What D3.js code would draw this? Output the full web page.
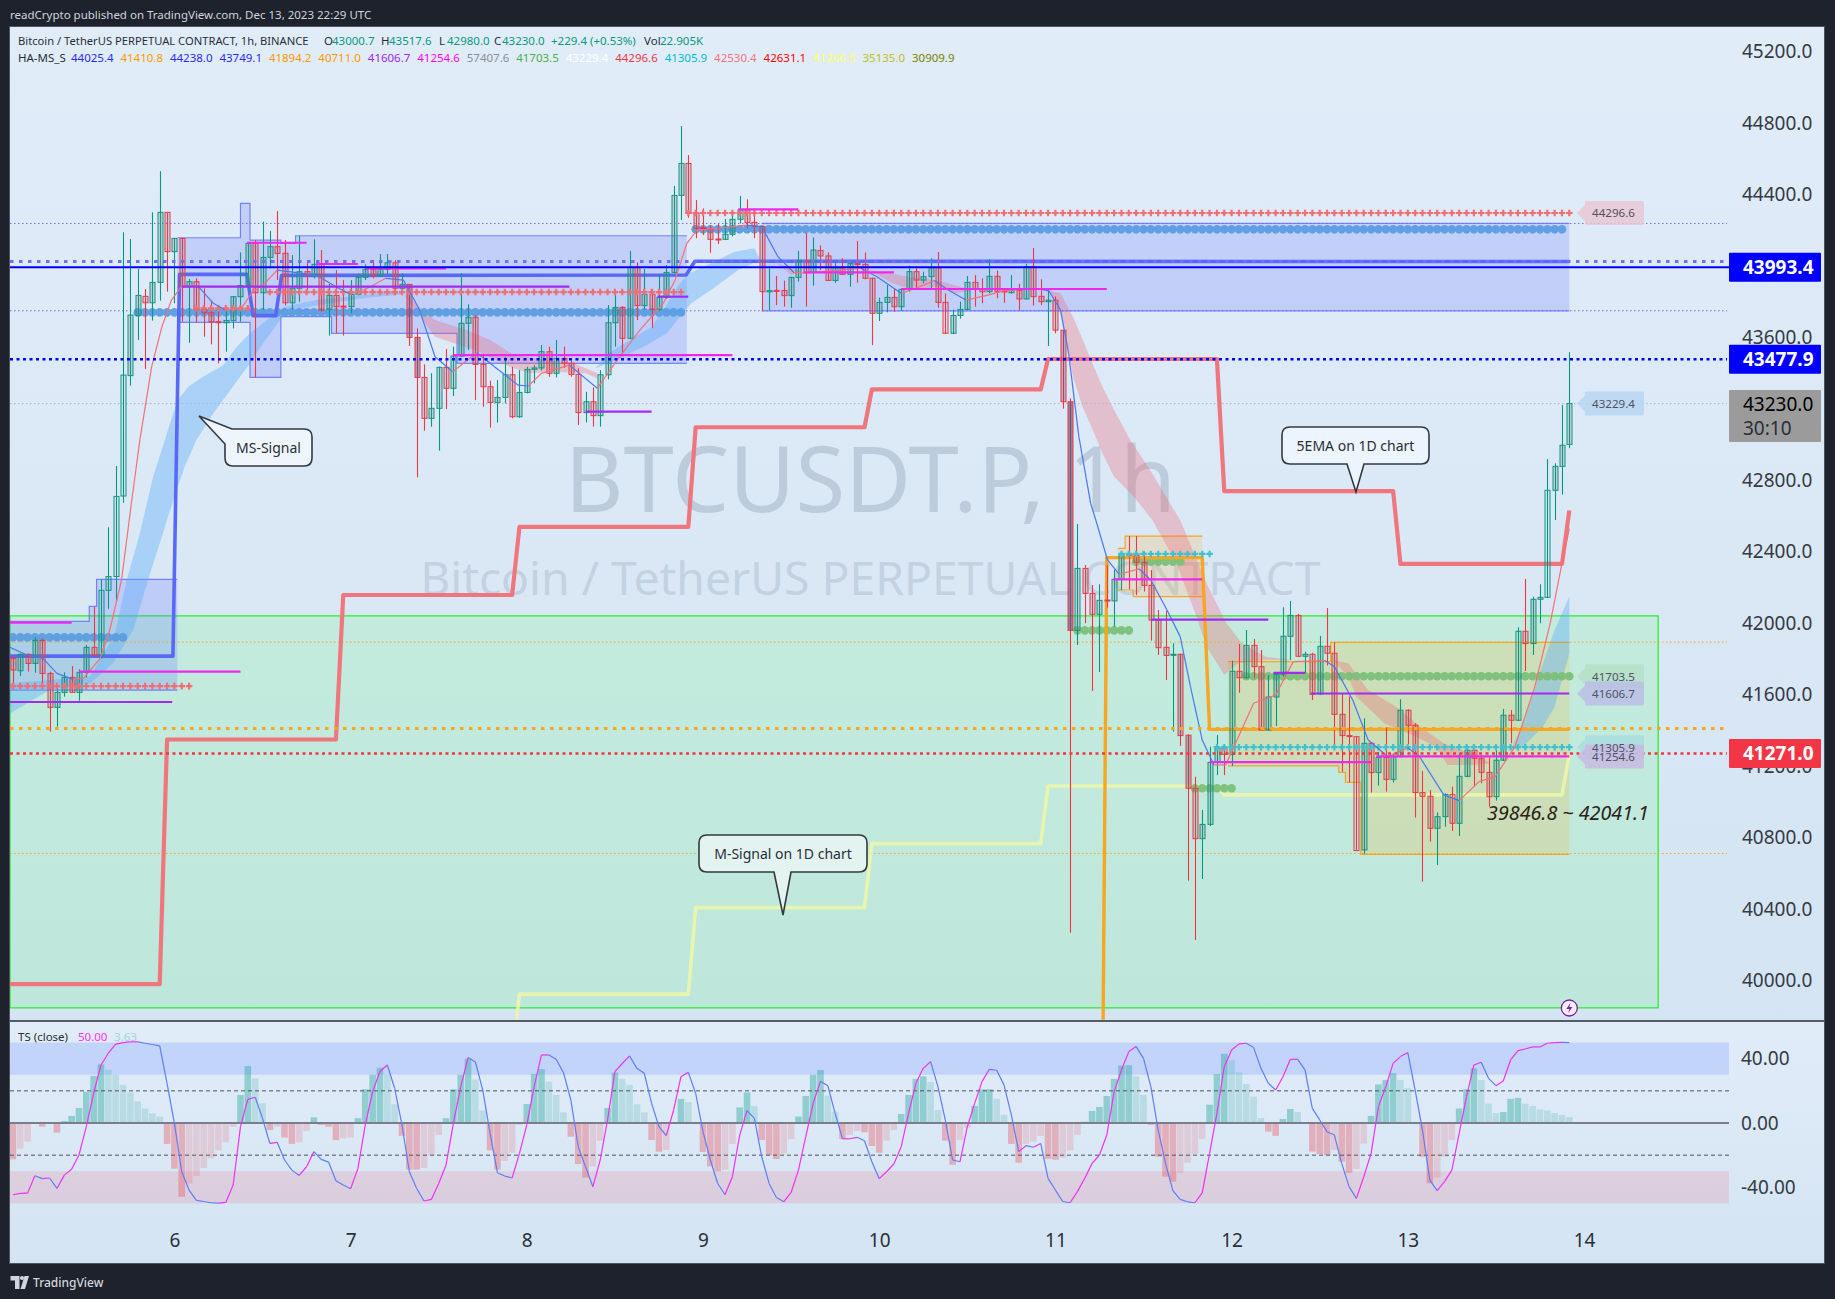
<!DOCTYPE html>
<html><head><meta charset="utf-8">
<script src="https://cdn.jsdelivr.net/npm/d3@7/dist/d3.min.js"></script>
<style>html,body{margin:0;padding:0;background:#1e222d}svg{display:block}text{font-family:"Noto Sans",sans-serif}</style>
</head><body><svg id="c" width="1835" height="1299"></svg>
<script>
// ---- candles: first candle is hour -22 relative to Dec 6 00:00 ----
const firstHour = -22;
const opens = [41803,41734,41826,41775,41904,41719,41529,41613,41697,41613,
41725,41865,41818,42184,42261,42712,43386,43722,43830,43794,
43908,44300,44080,44154,43886,43912,43757,43738,43688,43682,
43695,43828,43890,44126,43850,44048,44108,44071,43794,43875,
43968,43953,44009,43757,43835,43775,43772,43841,43936,43979,
43944,43981,44018,43875,43897,43600,43376,43147,43203,43432,
43315,43496,43679,43712,43449,43324,43236,43264,43391,43156,
43292,43421,43429,43520,43399,43483,43455,43393,43179,43240,
43162,43391,43682,43768,43595,43992,43778,43841,43757,43824,
43964,44395,44574,44295,44215,44205,44151,44149,44177,44261,
44313,44244,44220,43855,43863,43863,43834,43936,44031,43964,
44087,44056,43919,43990,43953,44013,44009,43931,43735,43796,
43824,43772,43869,43968,43921,43940,43990,43796,43623,43723,
43757,43908,43869,43856,43942,43860,43850,43863,43815,43996,
43830,43800,43808,43640,43240,41960,42307,42167,42050,42130,
42125,42246,42386,42382,42341,42212,42018,41865,41822,41826,
41373,41076,40794,40874,41221,41302,41266,41731,41695,41876,
41757,41402,41587,41714,41927,42044,41815,41826,41604,41871,
41832,41490,41371,41365,40731,41328,41164,41248,41126,41253,
41513,41429,41052,41031,40852,40917,41042,40880,41143,41289,
41244,41165,41029,41233,41485,41457,41955,41886,42134,42145,
42744,42878,43000.7];
const highs = [41822,41831,41831,41921,41915,41729,41641,41725,41760,41742,
41878,42093,42246,42537,42880,44188,44151,43983,43871,44300,
44531,44300,44158,44158,43927,43931,43875,43806,43744,43753,
43832,44076,44130,44145,44248,44196,44307,44145,44061,44169,
44018,44149,44089,43900,43977,43921,43921,43959,44009,44033,
44067,44067,44033,43959,43897,43651,43449,43400,43437,43535,
43548,43959,43785,43725,43500,43358,43361,43492,43436,43417,
43436,43445,43557,43548,43585,43548,43470,43427,43296,43320,
43417,43781,43847,43775,44084,44020,43983,43869,43953,44005,
44448,44783,44621,44369,44322,44229,44238,44263,44285,44392,
44373,44313,44223,43987,43944,43918,43940,44084,44183,44160,
44115,44076,44015,44043,44024,44140,44076,43935,43822,43893,
43875,43875,44002,44000,43968,44043,44078,43847,43755,43800,
43944,43949,43931,44037,43975,43875,43949,43900,44011,44100,
43925,43865,43830,43640,43260,42556,42326,42214,42218,42326,
42300,42401,42488,42488,42401,42298,42074,42070,41888,41830,
41378,41141,40955,41309,41374,41318,41791,41884,41962,41912,
41850,41710,41723,42089,42125,42052,41841,41835,41929,42085,
41893,41608,41590,41365,41468,41335,41280,41417,41270,41574,
41518,41440,41173,41066,40941,41048,41085,41270,41315,41292,
41262,41250,41290,41520,41514,41977,42248,42149,42218,42919,
42895,43222,43517.6];
const lows = [41630,41704,41729,41723,41654,41393,41421,41589,41613,41566,
41697,41818,41803,42081,42124,42675,43330,43585,43423,43694,
43806,43856,43791,43688,43570,43682,43604,43561,43455,43520,
43650,43688,43870,43376,43755,43987,43921,43780,43755,43800,
43865,43930,43745,43610,43623,43610,43735,43835,43921,43930,
43940,43950,43837,43855,43552,42817,43078,43100,42966,43199,
43272,43490,43529,43249,43212,43095,43123,43230,43147,43150,
43286,43343,43415,43380,43376,43430,43380,43110,43124,43100,
43100,43365,43548,43501,43590,43697,43755,43654,43750,43815,
43958,44257,44270,44155,44173,44074,44123,44145,44165,44238,
44210,44155,43748,43753,43781,43772,43766,43912,43772,43890,
43977,43915,43906,43950,43884,43906,43925,43557,43692,43740,
43744,43748,43856,43870,43903,43870,43766,43623,43620,43705,
43753,43772,43791,43847,43819,43794,43845,43753,43813,43778,
43781,43552,43623,43201,40268,41878,42000,41621,41727,42087,
41981,42186,42190,42158,42177,41903,41822,41682,41393,41313,
40559,40227,40568,40865,41150,41150,41201,41611,41690,41692,
41402,41402,41425,41701,41794,41810,41723,41570,41598,41763,
41313,41169,41109,40727,40708,41052,41091,41057,41108,41250,
41324,40912,40553,40777,40647,40861,40837,40809,41138,41085,
41104,40973,41007,41230,41328,41453,41733,41822,42000,42140,
42578,42720,42980];
const closes = [41738,41826,41775,41904,41719,41529,41613,41697,41613,41725,
41865,41818,42184,42261,42710,43389,43725,43835,43794,43908,
44300,44080,44154,43886,43912,43757,43738,43688,43682,43695,
43828,43890,44126,43850,44048,44108,44070,43794,43875,43968,
43949,44009,43753,43835,43772,43772,43841,43936,43979,43944,
43981,44018,43875,43897,43600,43376,43147,43203,43432,43315,
43496,43679,43712,43449,43324,43236,43264,43391,43156,43292,
43421,43429,43520,43399,43483,43455,43393,43179,43240,43162,
43391,43682,43768,43595,43992,43778,43841,43757,43824,43964,
44395,44574,44295,44211,44210,44149,44149,44177,44261,44313,
44242,44220,43856,43862,43861,43834,43936,44031,43962,44089,
44056,43919,43990,43953,44013,44007,43931,43735,43796,43824,
43772,43869,43968,43921,43940,43990,43796,43623,43723,43757,
43908,43869,43856,43942,43856,43855,43863,43815,43996,43828,
43800,43808,43641,43240,41960,42307,42167,42050,42128,42125,
42246,42386,42382,42341,42212,42018,41863,41820,41826,41371,
41076,40794,40874,41221,41302,41266,41731,41695,41876,41757,
41402,41587,41714,41927,42044,41815,41826,41602,41871,41832,
41490,41371,41367,40727,41328,41164,41248,41126,41253,41513,
41429,41052,41031,40852,40917,41042,40880,41143,41289,41244,
41165,41029,41233,41485,41457,41955,41886,42134,42145,42744,
42878,42996,43230];
// body shade (volume-like tint) for the candles that stand out: [hour, opacity]
const bodyShade = [[122,.62],[121,.34],[33,.45],[32,.38],[138,.36],[137,.3],[161,.05],[187,.04],[105,.05],[-10,.05],[-9,.06],[-8,.05],[-7,.06],[183,.05]];

// ---- TS pane ----
const tsHist = [-22.6,-16,-11.6,-0.3,-2.3,-0.3,-6,1.2,4.4,9.3,
19.3,29.3,36.5,33,30,23.7,19,13.5,9,6,
4,-13,-28.4,-45.9,-37.6,-33,-28,-22,-17,-12,
-2.5,17.4,35.5,27.8,12.2,-4.4,-2.3,-9,-13,-12,
-5,3.5,-1.2,-2.3,-10.6,-9.5,-9,3,21,30,
34.4,30,11.6,-8,-29,-29,-28,-20,-7.5,3,
21,30,40,27,7.7,-17,-29,-23.6,-18.5,-1,
11.8,30.5,33.6,25.7,17.4,6.6,-8.5,-25.5,-34,-27,
-11,9.3,31.3,27.4,23.7,11.6,6.6,-10.6,-17.8,-16.8,
0,15,13,0,-18,-27,-30,-29,-13,9.7,
19,10.5,-10.6,-20,-22.4,-19,-10,4,16.8,30,
33,17,7,-10,-7.5,-5,-5.8,-14.3,-18.5,-11,
-4.4,5.6,17.4,27.4,29,25.5,8,-11,-26,-10.6,
-3,10.6,21,21,15,5,-13,-24.7,-13,-11.6,
-8,-22.4,-22.8,-21.6,-17,-7.5,0.8,7.5,10,16.8,
27.4,35.7,36,29,17.4,-1.2,-21,-33.4,-36.5,-31,
-24.7,-19.3,-10,11.4,30.5,43,39,31.5,24.3,16.4,
3,-5.4,-8,2.5,8.7,6.8,0,-17.8,-19.3,-20,
-16.8,-24,-31,-28.6,-12.7,4.4,24,26.8,31,26.8,
21.6,0,-21,-37.5,-33.8,-21,-10.6,9,21,34,
26.8,12,6.2,6.8,15,15.6,12,10.6,8.5,7.7,
6.2,5,3.63];
const tsLine = [-44.6,-43.8,-43.6,-32.8,-34.6,-34.2,-40.7,-32.4,-28.8,-19.9,
-2.3,18.5,36.1,43.4,49,50,50.4,50.5,49.6,48.8,
48,24.7,-0.2,-30.3,-41.7,-48.1,-48.8,-49.6,-49.8,-49.4,
-38.6,-2.3,14.7,16,2.9,-12.7,-12,-23,-29.3,-32.6,
-27.2,-17.8,-22.6,-24.3,-35.9,-38.6,-40.9,-28.2,-1.2,19.5,
32,36.1,21.6,-1.2,-30.3,-40.7,-48.5,-47.5,-37.6,-26.1,
-0.2,22.6,40.7,38,20.5,-6.4,-30.9,-33,-34.2,-18.9,
-1.2,22.6,42.3,42.3,39.6,31.3,14.3,-14.7,-27.2,-39.6,
-23,1.9,32,37,41.7,34,30.9,12.2,-2.3,-7.9,
8.1,28.8,31.5,18.5,-5.4,-23,-37.6,-44.6,-33.4,-7.5,
7.7,2.9,-21,-37.6,-46.3,-49,-43.2,-29.3,-8.5,12.2,
25.9,23.2,6,-9.8,-9.8,-8.9,-11,-24.1,-34.6,-30.3,
-25.5,-14.7,6,24.7,34,38.2,22.6,1.9,-23,-24.1,
-2.3,12.2,25.7,33.4,32.8,23.7,5,-17.8,-14.1,-15.1,
-12.7,-34.4,-41.7,-48.8,-49.6,-42.7,-34.4,-25.1,-19.9,-7.5,
19.5,33,44.4,47.5,40.2,22.6,-4.4,-25.1,-42.1,-47.5,
-49,-49.6,-43.4,-18.9,6,35,45.4,49.2,49.6,46.9,
34,24.7,20.5,28.8,39.6,39.6,33,9.1,1.9,-5.4,
-7.5,-25.1,-39.6,-46.9,-33.4,-18.9,10.2,22.6,37.1,41.3,
43.8,20.5,-4.4,-35.5,-42.1,-36.5,-29.3,-6.4,16.4,36.1,
37.8,27.8,23.2,26.1,39.2,45,46,47.3,47.3,49.6,
50,50.2,50];

// ---- axis ticks (44000 and 43200 sit behind the value boxes) ----
const priceTicks = [45200,44800,44400,43600,42800,42400,42000,41600,41200,40800,40400,40000];
const tsTicks = [40,0,-40];
const dayTicks = [6,7,8,9,10,11,12,13,14];

// ---- horizontal levels ----
const thinLevels = [[44238,"#6d6df0"],[43749.1,"#6d6df0"],[43229.4,"#a9b4bf"],[41894.2,"#f5a623"],[40711,"#f5a623"]];
const thickDotLevels = [[44025.4,"#6f6fff"],[41410.8,"#f5a623"]];
const fineDotLevels = [[43477.9,"#0000ff"],[41271,"#f23645"]];
const solidLevel = 43993.4;

// ---- stepped indicator lines: [hour, price] ----
const ema1d = [[-23.4,39980],[-2,39980],[-1,41349],[22,41349],[23,42158],[46,42158],[47,42539],[70,42539],[71,43097],[94,43097],[95,43309],[118,43309],[119,43479],[142,43479],[143,42740],[166,42740],[167,42332],[189,42332],[190,42631]];
const mSignal = [[46.6,39780],[47,39924],[70,39924],[71,40408],[94,40408],[95,40766],[118,40766],[119,41089],[142,41089],[143,41039],[189,41039],[190,41266]];
const msSignal = [[-23.4,41816],[-0.2,41816],[0.7,43953],[9.9,43953],[10.7,43722],[13.8,43722],[14.6,43947],[69.7,43949],[70.9,44026],[190,44025]];
const orangeSignal = [[126.5,39780],[127,42367],[140,42367],[141,41406],[190,41406]];

// ---- zones: [hourFrom, top, bottom] per step, closed by a final hour ----
const greenZone = {top:42041.1,bottom:39846.8,hourEnd:202.1};
const blueZones = [
 {steps:[[-23.4,42010,41626],[-11.6,42094,41626],[-10.6,42246,41626]],end:0.4},
 {steps:[[0.4,44158,43684],[9,44350,43684],[10.3,44145,43376],[14.5,44126,43716],[16.5,44169,43716],[21.4,44169,43623],[38.5,44169,43455]],end:69.8},
 {steps:[[80,44238,43749]],end:190}
];
const orangeZones = [
 {steps:[[128.5,42419,42186],[129.5,42488,42186],[130.6,42488,42149]],end:140},
 {steps:[[143.5,41785,41201],[157.5,41893,41201],[158.6,41893,41165],[159.5,41893,41109],[161.6,41893,40706]],end:190}
];

// ---- ribbons: upper and lower edges as [hour, price] ----
const blueRibbons = [
 {up:[[-23.4,41660],[-11.5,41701],[-8.1,41940],[-6.5,42242],[-4.7,42503],[-2.9,42820],[-1.3,43026],[-0.15,43175],[0.5,43250],[1.9,43324],[3.9,43380],[6.7,43446],[8.5,43548],[10.3,43623],[12.6,43697],[15,43770],[19.3,43810],[30.1,43856],[31.2,43843]],
  lo:[[-23.4,41470],[-17,41626],[-11.5,41663],[-8.4,41775],[-5.6,41962],[-3.6,42242],[-1.7,42485],[-0.15,42690],[1.4,42876],[3,43026],[5.3,43175],[7.8,43315],[10.3,43455],[12.1,43567],[14.4,43697],[15.7,43753],[21,43790],[24.7,43815],[30.1,43837],[31.2,43843]]},
 {up:[[57.4,43427],[59.1,43511],[62.8,43604],[65,43660],[66.9,43772],[68.5,43884],[70.1,43959],[73.1,44015],[76.3,44080],[79,44099],[79.8,44033]],
  lo:[[57.4,43427],[60.7,43483],[63.9,43548],[67.1,43623],[68.5,43697],[70.4,43791],[73.1,43865],[76.8,43977],[79.8,44033]]},
 {up:[[182,41290],[183.7,41440],[185.8,41701],[188,41962],[190,42149]],
  lo:[[182,41290],[183.7,41309],[186.4,41421],[188,41533],[190,41832]]}
];
const pinkRibbons = [
 {up:[[31.2,43843],[35.5,43697],[39.8,43641],[43,43585],[46.3,43501],[50.6,43473],[54.4,43455],[57.6,43399]],
  lo:[[31.2,43843],[35.5,43604],[37.9,43570],[40.9,43529],[45.7,43436],[48.4,43399],[51.7,43408],[56,43399],[57.6,43371]]},
 {up:[[81.96,44018],[85.5,43968]],lo:[[81.96,44018],[84,43950],[85.5,43968]]},
 {up:[[94.6,43977],[97.3,43959],[100,43940],[103.8,43921],[107,43884],[108.6,43865]],
  lo:[[94.6,43977],[97.8,43903],[100.5,43865],[103.8,43884],[106.5,43847],[108.6,43865]]},
 {up:[[118.9,43865],[120.7,43847],[122.4,43716],[124.3,43529],[126.4,43324],[128,43194],[130.2,43026],[132.9,42858],[135.6,42671],[137,42578],[140.6,42223],[143.3,42000],[145.4,41888],[148.6,41813],[152.4,41794],[157.8,41794],[159.9,41776],[162.6,41626],[166.4,41533],[169.7,41421],[172.9,41328],[177.2,41262],[179.4,41216]],
  lo:[[118.9,43865],[120.5,43772],[121.3,43623],[122.4,43380],[123.7,43212],[125.1,43082],[126.4,42951],[128,42820],[130.7,42708],[133.2,42578],[136.5,42335],[139.2,42037],[140.6,41869],[143,41710],[144.9,41776],[148.6,41794],[152.4,41794],[157.8,41794],[159.9,41701],[161,41589],[164.8,41440],[169.1,41365],[171.8,41309],[173.4,41207],[176.7,41207],[179.4,41216]]}
];

// ---- fast moving average: [hour, price] ----
const fastMA = [[-23.4,41885],[-22.4,41865],[-20.1,41822],[-17.9,41803],[-16,41719],[-13.8,41686],[-12.4,41691],[-10.1,41803],[-8.8,41962],[-7.2,42242],[-5.8,42690],[-4.7,43026],[-3.1,43436],[-1.7,43660],[-0.4,43809],[1,43888],[3.2,43888],[5.3,43791],[6.9,43753],[9.1,43763],[10.7,43856],[12.3,43902],[14,43977],[15.6,43968],[19.3,43949],[22,43884],[23.9,43843],[26.3,43875],[28.8,43931],[31.2,43921],[33.4,43753],[35.5,43492],[37.9,43408],[41.2,43514],[43.6,43436],[46.8,43333],[48.2,43328],[50,43399],[53.8,43445],[57.6,43315],[60.3,43473],[63.4,43641],[66.6,43791],[68.2,43921],[69.8,44127],[71.2,44201],[74.1,44211],[77.9,44229],[80,44220],[82.2,44052],[84.4,43962],[86.5,43962],[93.5,43987],[95.7,43940],[99,43847],[101,43875],[103.5,43918],[105.4,43865],[107.8,43809],[110.8,43837],[113,43861],[117.2,43875],[119.1,43861],[120.7,43753],[121.8,43511],[123.2,43044],[124.8,42671],[125.5,42578],[127.1,42354],[128.7,42274],[131.4,42304],[133,42242],[135.2,42074],[137,41925],[138.4,41645],[140,41346],[141.6,41207],[143.2,41207],[147,41552],[150,41598],[152.4,41785],[156.7,41791],[158,41757],[160.5,41570],[162.6,41346],[165.3,41253],[168,41303],[169.6,41253],[172.9,41039],[175,41007],[177.7,41113],[179.9,41141],[182.6,41309],[185.3,41645],[187.4,42000],[189,42335],[190,42530]];

// ---- marker rows: [price, fromHour, toHour] ----
const blueDots = [[41921,-22,-7],[43740,-5,69],[44205,71,189]];
const greenDots = [[42345,131,137],[41960,123,130],[41076,139,144],[41703.5,146,190]];
const redCrosses = [[41648,-22,2],[43763,3,10],[43854,13,69],[44296.6,70,190]];
const cyanCrosses = [[42388,129,141],[41305.9,142,190]];

// ---- short horizontal segments: [price, fromHour, toHour] ----
const magentaSegs = [[42003,-23.4,-14],[41729,-13,9],[44130,9.9,18],[44011,19.3,25],[43987,26,37],[43501,37.9,76],[44317,76.8,85],[43964,85.7,98],[43871,99,127],[42246,127.9,140],[41223,141,163],[41254.6,163.7,190]];
const purpleSegs = [[41559,-23.4,-0.3],[43884,1,53.8],[43184,56,65],[43828,65.8,70],[42020,133,149],[41722,149.7,154],[41606.7,154.8,190]];

// ---- tags and boxes ----
const tags = [[44296.6,"#e8c6d1","44296.6"],[43229.4,"#b5d4f1","43229.4"],[41703.5,"#b4dec6","41703.5"],[41606.7,"#bcbce9","41606.7"],[41305.9,"#a8dcdf","41305.9"],[41254.6,"#c8b6e3","41254.6"]];
const axisBoxes = [[43993.4,"#0000ff","43993.4"],[43477.9,"#0000ff","43477.9"],[41271,"#f23645","41271.0"]];
const legendValues = [["44025.4","#2a2aff"],["41410.8","#ff9800"],["44238.0","#2a2aff"],["43749.1","#2a2aff"],["41894.2","#ff9800"],["40711.0","#ff9800"],["41606.7","#9c27f0"],["41254.6","#ff00ff"],["57407.6","#8a8f96"],["41703.5","#4caf50"],["43229.4","#ffffff"],["44296.6","#f23645"],["41305.9","#00bcd4"],["42530.4","#f7707a"],["42631.1","#ff0000"],["41266.5","#ffff66"],["35135.0","#c0c020"],["30909.9","#808000"]];

// ================= drawing =================
const LEFT=10,RIGHT=1729,EDGE=1824,TOP=27,PANE=1021,BOTTOM=1263;
const svg=d3.select("#c");
const x=d3.scaleLinear().domain([0,192]).range([174.4,1584]);
const y=d3.scaleLinear().domain([40000,44400]).range([980.5,194.5]);
const yTS=d3.scaleLinear().domain([-50,50]).range([1203.4,1042.6]);
const hours=opens.map((_,i)=>firstHour+i);
const defs=svg.append("defs");
const g1=defs.append("linearGradient").attr("id","gm").attr("x1",0).attr("x2",0).attr("y1",0).attr("y2",1);
g1.append("stop").attr("offset",0).attr("stop-color","#e1ecf9");g1.append("stop").attr("offset",1).attr("stop-color","#d4e4f3");
defs.append("clipPath").attr("id","main").append("rect").attr("x",LEFT).attr("y",TOP).attr("width",EDGE-LEFT).attr("height",PANE-TOP);
defs.append("clipPath").attr("id","ts").append("rect").attr("x",LEFT).attr("y",PANE).attr("width",RIGHT-LEFT).attr("height",BOTTOM-PANE);

svg.append("rect").attr("width",1835).attr("height",1299).attr("fill","#1e222d");
svg.append("rect").attr("x",LEFT).attr("y",TOP).attr("width",EDGE-LEFT).attr("height",PANE-TOP).attr("fill","url(#gm)");
svg.append("rect").attr("x",LEFT).attr("y",PANE).attr("width",EDGE-LEFT).attr("height",BOTTOM-PANE).attr("fill","url(#gm)");
svg.append("rect").attr("x",LEFT-.5).attr("y",TOP-.5).attr("width",EDGE-LEFT+1).attr("height",BOTTOM-TOP+1).attr("fill","none").attr("stroke","#50535e");
svg.append("line").attr("x1",LEFT).attr("x2",EDGE).attr("y1",PANE).attr("y2",PANE).attr("stroke","#2a2e39").attr("stroke-width",1.5);

// header
svg.append("text").attr("x",10).attr("y",19).attr("fill","#d1d4dc").attr("font-size",11.5).text("readCrypto published on TradingView.com, Dec 13, 2023 22:29 UTC");
const plain=(xp,yp,t,c,s=11.5)=>svg.append("text").attr("x",xp).attr("y",yp).attr("fill",c).attr("font-size",s).text(t);
plain(18,45,"Bitcoin / TetherUS PERPETUAL CONTRACT, 1h, BINANCE","#2a2e39",11.2);
[["O",324,"43000.7"],["H",381,"43517.6"],["L",439,"42980.0"],["C",494,"43230.0"]].forEach(d=>{plain(d[1],45,d[0],"#2a2e39");plain(d[1]+8,45,d[2],"#089981");});
plain(551,45,"+229.4 (+0.53%)","#089981");plain(644,45,"Vol","#2a2e39");plain(660,45,"22.905K","#089981");
plain(18,62,"HA-MS_S","#2a2e39");
legendValues.forEach((d,i)=>plain(71+i*49.47,62,d[0],d[1]));

// main pane
const m=svg.append("g").attr("clip-path","url(#main)");
m.append("text").attr("x",x(94.8)).attr("y",y(42624)).attr("text-anchor","middle").attr("font-size",90.5).attr("fill","#8497aa").attr("opacity",.34).text("BTCUSDT.P, 1h");
m.append("text").attr("x",x(94.8)).attr("y",y(42158)).attr("text-anchor","middle").attr("font-size",46.3).attr("fill","#8497aa").attr("opacity",.26).text("Bitcoin / TetherUS PERPETUAL CONTRACT");

const stepArea=(z)=>{const pts=[];z.steps.forEach((s,i)=>{const e=i<z.steps.length-1?z.steps[i+1][0]:z.end;pts.push({h:s[0],t:s[1],b:s[2]},{h:e,t:s[1],b:s[2]});});return pts;};
// green range
m.append("rect").attr("x",LEFT).attr("y",y(greenZone.top)).attr("width",x(greenZone.hourEnd)-LEFT).attr("height",y(greenZone.bottom)-y(greenZone.top)).attr("fill","rgba(47,254,59,.13)").attr("stroke","#22ee22").attr("stroke-width",1.2);
const zoneDraw=(z,fill,stroke)=>{const p=stepArea(z);
  m.append("path").attr("d",d3.area().x(d=>x(d.h)).y0(d=>y(d.b)).y1(d=>y(d.t))(p)).attr("fill",fill);
  const ln=d3.line().x(d=>x(d.h));
  m.append("path").attr("d",ln.y(d=>y(d.t))(p)).attr("fill","none").attr("stroke",stroke).attr("stroke-width",1.2);
  m.append("path").attr("d",ln.y(d=>y(d.b))(p)).attr("fill","none").attr("stroke",stroke).attr("stroke-width",1.2);};
blueZones.forEach(z=>zoneDraw(z,"rgba(100,120,255,.24)","rgba(85,95,255,.72)"));
orangeZones.forEach(z=>zoneDraw(z,"rgba(255,165,0,.16)","#f5a623"));

// ribbons
const ribbon=(r,fill)=>{const d=d3.line().x(p=>x(p[0])).y(p=>y(p[1]))(r.up.concat(r.lo.slice().reverse()))+"Z";m.append("path").attr("d",d).attr("fill",fill);};
blueRibbons.forEach(r=>ribbon(r,"rgba(88,170,250,.38)"));
pinkRibbons.forEach(r=>ribbon(r,"rgba(242,95,105,.3)"));

// long level lines
const lev=(p,c,w,da)=>m.append("line").attr("x1",LEFT).attr("x2",RIGHT-2).attr("y1",y(p)).attr("y2",y(p)).attr("stroke",c).attr("stroke-width",w).attr("stroke-dasharray",da);
thinLevels.forEach(l=>lev(l[0],l[1],1,"1.5 2.5"));

// stepped lines
const stepLine=d3.line().x(p=>x(p[0])).y(p=>y(p[1]));
const thick=(data,c,w)=>m.append("path").attr("d",stepLine(data)).attr("fill","none").attr("stroke",c).attr("stroke-width",w).attr("stroke-linejoin","round");
thick(mSignal,"rgba(240,248,165,.8)",3.6);
thick(ema1d,"#f0767e",4.2);

// marker rows
const dotSym=d3.symbol().type(d3.symbolCircle).size(58)();
const crossSym=d3.symbol().type(d3.symbolCross).size(24)();
const row=(rows,sym,c,op)=>rows.forEach(r=>{m.append("g").attr("fill",c).attr("opacity",op).selectAll("path").data(d3.range(r[1],r[2]+1)).join("path").attr("d",sym).attr("transform",h=>`translate(${x(h)},${y(r[0])})`);});
row(blueDots,dotSym,"#5b9ee1",.95);
row(greenDots,dotSym,"#7cc07a",.95);
thick(msSignal,"#5a69f5",3.6);
thick(orangeSignal,"#f5a623",3.4);

// candles
const shade=new Map(bodyShade);
const cg=m.append("g");
hours.forEach((h,i)=>{
 const up=closes[i]>=opens[i],c=up?"#089981":"#f23645",X=Math.round(x(h))+.5;
 cg.append("line").attr("x1",X).attr("x2",X).attr("y1",y(highs[i])).attr("y2",y(lows[i])).attr("stroke",c).attr("stroke-width",1.1);
 const t=y(Math.max(opens[i],closes[i])),b=y(Math.min(opens[i],closes[i]));
 cg.append("rect").attr("x",X-2.5).attr("y",t).attr("width",5).attr("height",Math.max(b-t,1)).attr("fill",(shade.has(h)?`rgba(90,80,120,${shade.get(h)})`:"rgba(120,125,130,.25)")).attr("stroke",c).attr("stroke-width",1);
});
row(redCrosses,crossSym,"#f26d74",1);
row(cyanCrosses,crossSym,"#3fc1d4",1);

// fast MA, blue while falling and red while rising
const maG=m.append("g").attr("fill","none").attr("stroke-width",1.2);
d3.pairs(fastMA).forEach(([a,b])=>maG.append("path").attr("d",stepLine([a,b])).attr("stroke",b[1]>=a[1]?"#f56f78":"#4a78f0"));

// short segments
const segs=(rows,c)=>rows.forEach(r=>m.append("line").attr("x1",x(r[1])).attr("x2",x(r[2])).attr("y1",y(r[0])).attr("y2",y(r[0])).attr("stroke",c).attr("stroke-width",2.2));
segs(magentaSegs,"#f028ee");segs(purpleSegs,"#a02cf0");

// dotted / solid levels on top
thickDotLevels.forEach(l=>lev(l[0],l[1],3,"3.5 5.5"));
fineDotLevels.forEach(l=>lev(l[0],l[1],2.5,"3 3.5"));
m.append("line").attr("x1",LEFT).attr("x2",RIGHT).attr("y1",y(solidLevel)).attr("y2",y(solidLevel)).attr("stroke","#0000ff").attr("stroke-width",2);

// range label
m.append("text").attr("x",1568).attr("y",y(40898)).attr("text-anchor","middle").attr("font-size",19.7).attr("font-style","italic").attr("fill","#2c2216").text("39846.8 ~ 42041.1");

// tags: all boxes first, then all texts, so overlapping tags stay readable
tags.forEach(t=>{const Y=y(t[0]);
 m.append("path").attr("d",`M1577,${Y}L1585,${Y-8}V${Y-11}a1,1 0 0 1 1,-1H1642a2,2 0 0 1 2,2V${Y+10}a2,2 0 0 1 -2,2H1586a1,1 0 0 1 -1,-1V${Y+8}Z`).attr("fill",t[1]).attr("opacity",.8);});
tags.forEach(t=>m.append("text").attr("x",1592).attr("y",y(t[0])+4.5).attr("font-size",11.6).attr("fill","#50535e").text(t[2]));

// callouts
const callout=(x0,x1,y0,y1,tail,txt,fill)=>{
 const r=8,[a,b,tip]=tail;let p;
 if(tail[3]==="bottom") p=`M${x0+r},${y0}H${x1-r}Q${x1},${y0} ${x1},${y0+r}V${y1-r}Q${x1},${y1} ${x1-r},${y1}H${b}L${tip[0]},${tip[1]}L${a},${y1}H${x0+r}Q${x0},${y1} ${x0},${y1-r}V${y0+r}Q${x0},${y0} ${x0+r},${y0}Z`;
 else p=`M${x0+r},${y0}H${x1-r}Q${x1},${y0} ${x1},${y0+r}V${y1-r}Q${x1},${y1} ${x1-r},${y1}H${x0+r}Q${x0},${y1} ${x0},${y1-r}V${b}L${tip[0]},${tip[1]}L${a},${y0}Z`;
 m.append("path").attr("d",p).attr("fill",fill).attr("stroke","#333a3f").attr("stroke-width",1.6);
 m.append("text").attr("x",(x0+x1)/2).attr("y",(y0+y1)/2+5).attr("text-anchor","middle").attr("font-size",14).attr("fill","#2a2e39").text(txt);};
callout(225,312,429,466,[232,444,[199,416],"left"],"MS-Signal","#eef5fc");
callout(699,867,835,872,[774,791,[783,915],"bottom"],"M-Signal on 1D chart","#e3f3ef");
callout(1282,1429,427,464,[1347,1364,[1356,492],"bottom"],"5EMA on 1D chart","#ecf4fd");

// replay-style icon
const ic=m.append("g").attr("transform",`translate(${x(190)},1008)`);
ic.append("circle").attr("r",8).attr("fill","#f6f0fa").attr("stroke","#7b1fa2").attr("stroke-width",1.3);
ic.append("path").attr("d","M1,-5L-3,1H0L-1,5L3,-1H0Z").attr("fill","#7b1fa2");

// price axis
const pa=svg.append("g").attr("transform",`translate(${RIGHT},0)`).call(d3.axisRight(y).tickValues(priceTicks).tickSize(0).tickPadding(13).tickFormat(d3.format(".1f")));
pa.select(".domain").remove();pa.selectAll("text").attr("font-size",19).attr("fill","#363a45").style("font-family",'"Noto Sans",sans-serif');

// axis boxes
axisBoxes.forEach(b=>{const Y=y(b[0]);
 svg.append("rect").attr("x",1729).attr("y",Y-14.5).attr("width",92).attr("height",29).attr("rx",1).attr("fill",b[1]);
 svg.append("text").attr("x",1743).attr("y",Y+7).attr("font-size",19).attr("font-weight",700).attr("fill","#fff").text(b[2]);});
svg.append("rect").attr("x",1729).attr("y",390).attr("width",92).attr("height",52).attr("rx",1).attr("fill","#9b9b9b");
svg.append("text").attr("x",1743).attr("y",411).attr("font-size",19).attr("fill","#000").text("43230.0");
svg.append("text").attr("x",1743).attr("y",435).attr("font-size",19).attr("fill","#2a2e39").text("30:10");

// TS pane
const t=svg.append("g").attr("clip-path","url(#ts)");
t.append("rect").attr("x",LEFT).attr("width",RIGHT-LEFT).attr("y",yTS(50)).attr("height",yTS(30)-yTS(50)).attr("fill","rgba(90,130,255,.22)");
t.append("rect").attr("x",LEFT).attr("width",RIGHT-LEFT).attr("y",yTS(-30)).attr("height",yTS(-50)-yTS(-30)).attr("fill","rgba(240,90,110,.17)");
tsHist.forEach((v,i)=>{
 const prev=i?tsHist[i-1]:0,strong=Math.abs(v)>=Math.abs(prev)||(v>0)!==(prev>0);
 const c=v>=0?(strong?"rgba(38,166,154,.42)":"rgba(38,166,154,.2)"):(strong?"rgba(240,60,70,.33)":"rgba(240,60,70,.17)");
 t.append("rect").attr("x",x(hours[i])-3.3).attr("width",6.6).attr("y",Math.min(yTS(v),yTS(0))).attr("height",Math.abs(yTS(v)-yTS(0))).attr("fill",c);});
[20,-20].forEach(v=>t.append("line").attr("x1",LEFT).attr("x2",RIGHT).attr("y1",yTS(v)).attr("y2",yTS(v)).attr("stroke","#50535e").attr("stroke-dasharray","4 3"));
t.append("line").attr("x1",LEFT).attr("x2",RIGHT).attr("y1",yTS(0)).attr("y2",yTS(0)).attr("stroke","#787f8a").attr("stroke-width",2);
const tl=d3.line().x(d=>x(d[0])).y(d=>yTS(d[1]));
const tsPts=hours.map((h,i)=>[h,tsLine[i]]);
const tg=t.append("g").attr("fill","none").attr("stroke-width",1.2);
d3.pairs(tsPts).forEach(([a,b])=>tg.append("path").attr("d",tl([a,b])).attr("stroke",b[1]>=a[1]?"#f030f0":"#5f7df5"));
const ta=svg.append("g").attr("transform",`translate(${RIGHT},0)`).call(d3.axisRight(yTS).tickValues(tsTicks).tickSize(0).tickPadding(12).tickFormat(v=>d3.format(".2f")(v).replace("−","-")));
ta.select(".domain").remove();ta.selectAll("text").attr("font-size",19).attr("fill","#363a45").style("font-family",'"Noto Sans",sans-serif');
plain(18,1041,"TS (close)","#2a2e39");plain(78,1041,"50.00","#ff30ff");plain(114,1041,"3.63","#9fd6d6");

// time axis
const xa=svg.append("g").attr("transform","translate(0,1240)").call(d3.axisBottom(x).tickValues(dayTicks.map(d=>(d-6)*24)).tickSize(0).tickPadding(0).tickFormat(h=>h/24+6));
xa.select(".domain").remove();xa.selectAll("text").attr("dy","0.35em").attr("y",0).attr("font-size",19).attr("fill","#2a2e39").style("font-family",'"Noto Sans",sans-serif');

// footer
svg.append("path").attr("d","M10.5,1276H19.5V1289H15V1280.5H10.5Z").attr("fill","#d1d4dc");
svg.append("circle").attr("cx",22).attr("cy",1278).attr("r",2.1).attr("fill","#d1d4dc");
svg.append("path").attr("d","M24.5,1276H29L25,1289H20.5Z").attr("fill","#d1d4dc");
svg.append("text").attr("x",33).attr("y",1287).attr("font-size",12).attr("font-weight",500).attr("fill","#d1d4dc").text("TradingView");
</script></body></html>
